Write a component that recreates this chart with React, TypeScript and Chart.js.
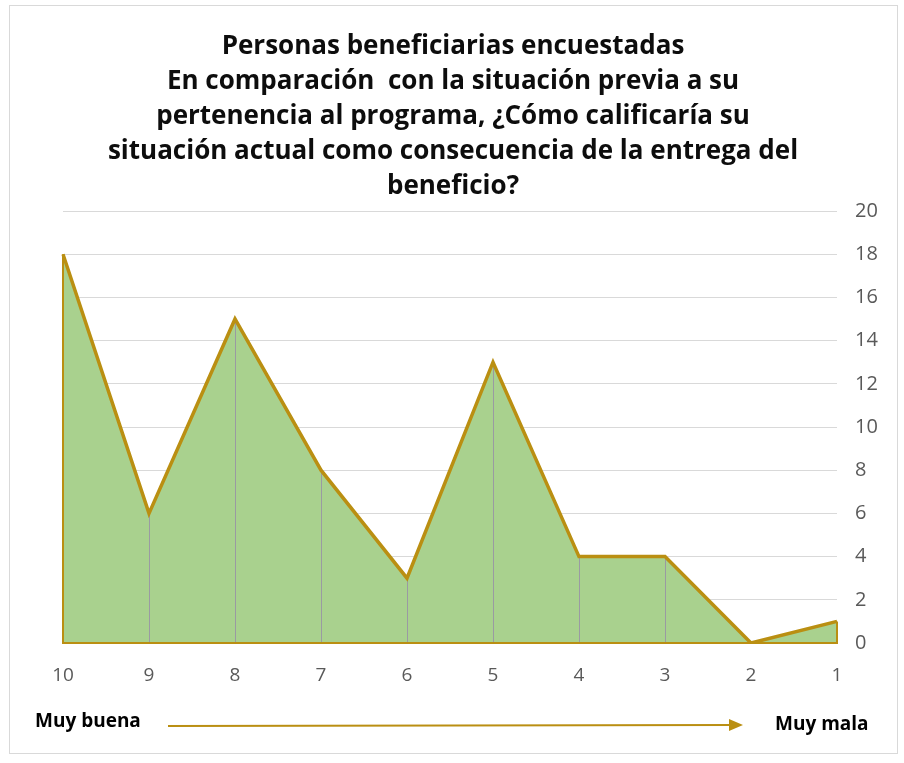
import React, { useEffect, useRef } from "react";
import { Chart, registerables } from "chart.js";

Chart.register(...registerables);

const categories = ["10", "9", "8", "7", "6", "5", "4", "3", "2", "1"];
const values = [18, 6, 15, 8, 3, 13, 4, 4, 0, 1];
const yMin = 0;
const yMax = 20;
const yStep = 2;
const titleLines = [
  "Personas beneficiarias encuestadas",
  "En comparación  con la situación previa a su",
  "pertenencia al programa, ¿Cómo calificaría su",
  "situación actual como consecuencia de la entrega del",
  "beneficio?",
];
const leftNote = "Muy buena";
const rightNote = "Muy mala";

const GOLD = "#BA8F12";
const GREEN = "#A9D18E";

const areaOutline = {
  id: "areaOutline",
  beforeDatasetsDraw(chart: any) {
    const meta = chart.getDatasetMeta(0);
    const pts = meta.data;
    if (!pts || !pts.length) return;
    const y0 = chart.scales.y.getPixelForValue(0);
    const ctx = chart.ctx;
    ctx.save();
    ctx.strokeStyle = "#9A9AA2";
    ctx.lineWidth = 1;
    for (let i = 1; i < pts.length - 1; i++) {
      const x = Math.round(pts[i].x) + 0.5;
      ctx.beginPath();
      ctx.moveTo(x, pts[i].y);
      ctx.lineTo(x, y0);
      ctx.stroke();
    }
    const first = pts[0];
    const last = pts[pts.length - 1];
    ctx.strokeStyle = GOLD;
    ctx.lineWidth = 2;
    ctx.beginPath();
    ctx.moveTo(first.x, first.y);
    ctx.lineTo(first.x, y0);
    ctx.lineTo(last.x, y0);
    ctx.lineTo(last.x, last.y);
    ctx.stroke();
    ctx.restore();
  },
};

const scaleNotes = {
  id: "scaleNotes",
  afterDraw(chart: any) {
    const ctx = chart.ctx;
    ctx.save();
    ctx.fillStyle = "#000000";
    ctx.font = "bold 19px 'Open Sans'";
    ctx.textBaseline = "alphabetic";
    ctx.textAlign = "left";
    ctx.fillText(leftNote, 35, 727);
    ctx.fillText(rightNote, 775, 730);
    ctx.strokeStyle = GOLD;
    ctx.fillStyle = GOLD;
    ctx.lineWidth = 2;
    ctx.beginPath();
    ctx.moveTo(168, 726);
    ctx.lineTo(732, 725);
    ctx.stroke();
    ctx.beginPath();
    ctx.moveTo(743, 725);
    ctx.lineTo(729, 719);
    ctx.lineTo(729, 731);
    ctx.closePath();
    ctx.fill();
    ctx.restore();
  },
};

export default function App() {
  const ref = useRef<HTMLCanvasElement | null>(null);

  useEffect(() => {
    if (!ref.current) return;
    const chart = new Chart(ref.current, {
      type: "line",
      data: {
        labels: categories,
        datasets: [
          {
            data: values,
            xAxisID: "x",
            yAxisID: "y",
            borderColor: GOLD,
            borderWidth: 3.5,
            backgroundColor: GREEN,
            fill: "origin",
            pointRadius: 0,
            tension: 0,
          },
        ],
      },
      options: {
        responsive: false,
        animation: false,
        layout: { padding: { top: 29, left: 9, right: 7, bottom: 0 } },
        plugins: {
          legend: { display: false },
          tooltip: { enabled: false },
          filler: { drawTime: "beforeDatasetsDraw" },
          title: {
            display: true,
            text: titleLines,
            color: "#0D0D0D",
            font: { family: "'Open Sans'", size: 26, weight: "bold", lineHeight: 35 / 26 },
            padding: { top: 0, bottom: 7 },
          },
        },
        scales: {
          x: {
            type: "category",
            offset: false,
            grid: { display: false },
            border: { display: false },
            ticks: {
              color: "#595959",
              font: { family: "'Open Sans'", size: 19 },
              padding: 13,
              maxRotation: 0,
              autoSkip: false,
            },
            afterFit(s: any) {
              s.height = 120;
            },
          },
          yL: {
            type: "linear",
            position: "left",
            display: true,
            grid: { display: false },
            border: { display: false },
            ticks: { display: false },
            afterFit(s: any) {
              s.width = 54;
            },
          },
          y: {
            type: "linear",
            position: "right",
            min: yMin,
            max: yMax,
            grid: { color: "#D9D9D9", lineWidth: 1, drawTicks: false },
            border: { display: false },
            ticks: {
              stepSize: yStep,
              color: "#595959",
              font: { family: "'Open Sans'", size: 20 },
              padding: 18,
            },
            afterFit(s: any) {
              s.width = 60;
            },
          },
        },
      },
      plugins: [areaOutline, scaleNotes],
    });
    return () => chart.destroy();
  }, []);

  return (
    <div style={{ position: "absolute", left: 0, top: 0, width: 904, height: 763 }}>
      <div
        style={{
          position: "absolute",
          left: 9,
          top: 5,
          width: 889,
          height: 749,
          boxSizing: "border-box",
          border: "1px solid #D9D9D9",
        }}
      />
      <canvas
        ref={ref}
        width={904}
        height={763}
        style={{ position: "absolute", left: 0, top: 0, width: 904, height: 763 }}
      />
    </div>
  );
}
